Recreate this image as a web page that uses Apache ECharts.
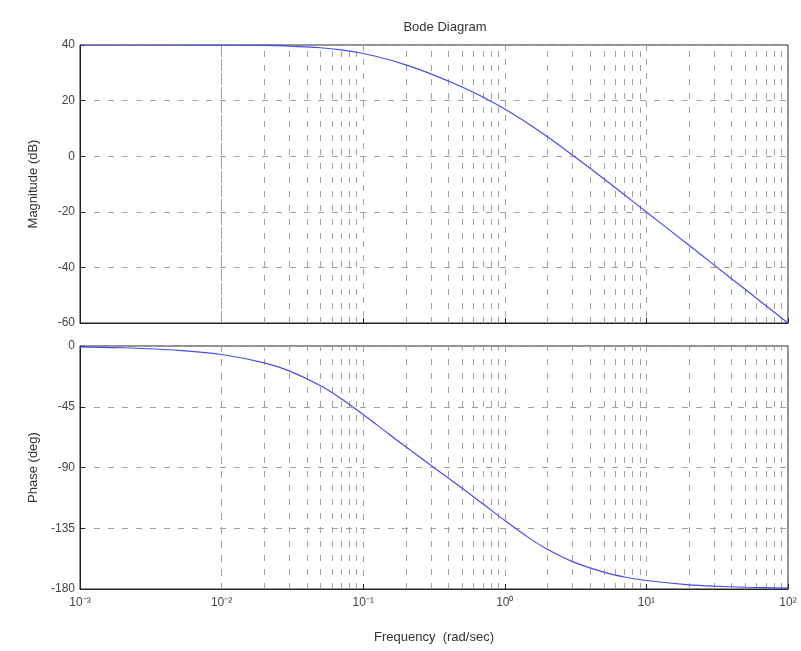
<!DOCTYPE html>
<html>
<head>
<meta charset="utf-8">
<style>
  html, body { margin: 0; padding: 0; background: #fff; }
  #chart { width: 801px; height: 651px; }
</style>
<script src="https://cdn.jsdelivr.net/npm/echarts@6/dist/echarts.min.js"></script>
</head>
<body>
<div id="chart"></div>
<script>
// 频率点 (rad/sec)
const freq = [0.001, 0.002, 0.005, 0.01, 0.02, 0.03, 0.05, 0.07, 0.1, 0.15, 0.2, 0.3,
  0.5, 0.7, 1, 1.5, 2, 3, 5, 7, 10, 20, 30, 50, 100];
// 幅值 (dB)
const magnitude = [40.0, 40.0, 40.0, 39.96, 39.83, 39.62, 39.02, 38.25, 36.95, 34.78, 32.84, 29.63,
  24.88, 21.28, 16.95, 11.34, 6.98, 0.45, -8.13, -13.89, -20.04, -32.05, -39.09, -47.96, -60.0];
// 相位 (deg)
const phase = [-0.6, -1.3, -3.2, -6.3, -12.5, -18.4, -29.4, -39.0, -50.7, -64.8, -74.7, -88.3,
  -105.3, -116.9, -129.3, -142.5, -150.6, -159.7, -167.5, -171.1, -173.7, -176.9, -177.9, -178.7, -179.4];
// 纵轴刻度
const magTicks = { min: -60, max: 40, interval: 20 };
const phaseTicks = { min: -180, max: 0, interval: 45 };
// 次网格线的倍数
const decades = [-3, -2, -1, 0, 1];
const multipliers = [2, 3, 4, 5, 6, 7, 8, 9];

const minorFreqs = [];
decades.forEach((d) => {
  multipliers.forEach((m) => minorFreqs.push(m * Math.pow(10, d)));
});

const sup = { "-": "⁻", "0": "⁰", "1": "¹", "2": "²", "3": "³" };
function powLabel(v) {
  const e = String(Math.round(Math.log10(v)));
  return "10" + e.split("").map((c) => sup[c]).join("");
}

const font = "'Liberation Sans', Arial, sans-serif";
const gridLine = { show: true, lineStyle: { color: "#a0a0a0", type: [6, 8], width: 1 } };
const axisLine = { show: true, onZero: false, lineStyle: { color: "#222", width: 1 } };

const grids = [
  { left: 80, top: 45, width: 708, height: 278, show: true, borderColor: "#222", borderWidth: 1 },
  { left: 80, top: 346, width: 708, height: 243, show: true, borderColor: "#222", borderWidth: 1 },
];

function xAxis(i, showLabel) {
  return {
    type: "log",
    logBase: 10,
    gridIndex: i,
    min: 0.001,
    max: 100,
    axisLine: axisLine,
    axisTick: { show: true, inside: true, length: 5, lineStyle: { color: "#222" } },
    splitLine: gridLine,
    axisLabel: {
      show: showLabel,
      formatter: powLabel,
      color: "#444",
      fontSize: 12,
      fontFamily: font,
      margin: 8,
    },
    name: showLabel ? "Frequency  (rad/sec)" : "",
    nameLocation: "middle",
    nameGap: 42,
    nameTextStyle: { color: "#333", fontSize: 13, fontFamily: font },
  };
}

function yAxis(i, ticks, name) {
  return {
    type: "value",
    gridIndex: i,
    min: ticks.min,
    max: ticks.max,
    interval: ticks.interval,
    axisLine: axisLine,
    axisTick: { show: true, inside: true, length: 5, lineStyle: { color: "#222" } },
    splitLine: gridLine,
    axisLabel: { color: "#444", fontSize: 12, fontFamily: font, margin: 5 },
    name: name,
    nameLocation: "middle",
    nameGap: 40,
    nameTextStyle: { color: "#333", fontSize: 13, fontFamily: font },
  };
}

function curve(i, values) {
  return {
    type: "line",
    xAxisIndex: i,
    yAxisIndex: i,
    data: freq.map((f, k) => [f, values[k]]),
    showSymbol: false,
    smooth: 0.25,
    lineStyle: { color: "#4a4aee", width: 1.2 },
    z: 5,
    markLine: {
      silent: true,
      symbol: "none",
      animation: false,
      label: { show: false },
      lineStyle: { color: "#a0a0a0", type: [6, 8], width: 1 },
      data: minorFreqs.map((f) => ({ xAxis: f })),
    },
  };
}

const myChart = echarts.init(document.getElementById("chart"));
myChart.setOption({
  animation: false,
  title: {
    text: "Bode Diagram",
    left: 440,
    top: 16,
    textAlign: "center",
    textStyle: { color: "#333", fontSize: 13, fontWeight: "normal", fontFamily: font },
  },
  grid: grids,
  xAxis: [xAxis(0, false), xAxis(1, true)],
  yAxis: [yAxis(0, magTicks, "Magnitude (dB)"), yAxis(1, phaseTicks, "Phase (deg)")],
  series: [curve(0, magnitude), curve(1, phase)],
});
window.onresize = myChart.resize;
</script>
</body>
</html>
